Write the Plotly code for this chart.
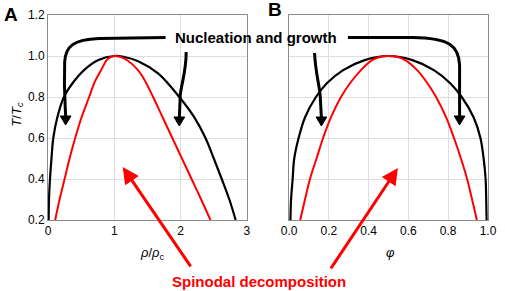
import plotly.graph_objects as go

# ---- data ----
# Panel A: rho/rho_c vs T/Tc
a_binodal_x = [0.01, 0.015, 0.03, 0.05, 0.08, 0.14, 0.24, 0.37, 0.54, 0.76, 1.0,
               1.15, 1.36, 1.66, 1.98, 2.2, 2.375, 2.5, 2.62, 2.735, 2.83]
a_binodal_y = [0.2, 0.3, 0.4, 0.49, 0.6, 0.70, 0.8, 0.867, 0.93, 0.98, 1.0,
               0.995, 0.975, 0.915, 0.8, 0.704, 0.6, 0.5, 0.4, 0.3, 0.2]
a_spinodal_x = [0.108, 0.175, 0.25, 0.325, 0.41, 0.505, 0.62, 0.70, 0.80, 0.90, 1.0,
                1.08, 1.2, 1.36, 1.47, 1.585, 1.73, 1.875, 2.02, 2.165, 2.31, 2.45]
a_spinodal_y = [0.2, 0.3, 0.4, 0.5, 0.6, 0.7, 0.8, 0.87, 0.93, 0.985, 1.0,
                0.997, 0.978, 0.93, 0.875, 0.8, 0.7, 0.6, 0.5, 0.4, 0.3, 0.2]

# Panel B: phi vs T/Tc
b_binodal_x = [0.007, 0.01, 0.018, 0.026, 0.048, 0.08, 0.135, 0.19, 0.27, 0.38, 0.5,
               0.62, 0.73, 0.81, 0.868, 0.928, 0.962, 0.978, 0.988, 0.991, 0.993]
b_binodal_y = [0.2, 0.3, 0.4, 0.5, 0.6, 0.7, 0.8, 0.867, 0.93, 0.98, 1.0,
               0.98, 0.93, 0.867, 0.8, 0.7, 0.6, 0.5, 0.4, 0.3, 0.2]
b_spinodal_x = [0.056, 0.08, 0.105, 0.138, 0.171, 0.212, 0.261, 0.31, 0.36, 0.417, 0.46, 0.5,
                0.54, 0.583, 0.645, 0.692, 0.739, 0.788, 0.829, 0.864, 0.895, 0.92, 0.944]
b_spinodal_y = [0.2, 0.3, 0.4, 0.5, 0.6, 0.704, 0.8, 0.872, 0.93, 0.98, 0.996, 1.0,
                0.996, 0.98, 0.93, 0.872, 0.8, 0.704, 0.6, 0.5, 0.4, 0.3, 0.2]

y_ticks = [0.2, 0.4, 0.6, 0.8, 1.0, 1.2]
a_x_ticks = [0, 1, 2, 3]
b_x_ticks = [0.0, 0.2, 0.4, 0.6, 0.8, 1.0]
b_x_ticklabels = ["0.0", "0.2", "0.4", "0.6", "0.8", "1.0"]

label_top = "Nucleation and growth"
label_bottom = "Spinodal decomposition"

# ---- layout geometry ----
W, H = 505, 291
ML, MR, MT, MB = 48, 8, 15, 71
PW, PH = W - ML - MR, H - MT - MB
FONT = "Arial, Liberation Sans, sans-serif"


def px(x, y):
    """reference-picture pixel -> paper coords"""
    return (x - ML) / PW, (H - MB - y) / PH


fig = go.Figure()
fig.add_trace(go.Scatter(x=a_binodal_x, y=a_binodal_y, mode="lines", line=dict(color="black", width=2.2),
                         line_shape="spline", xaxis="x", yaxis="y", showlegend=False))
fig.add_trace(go.Scatter(x=a_spinodal_x, y=a_spinodal_y, mode="lines", line=dict(color="#ff0000", width=2),
                         line_shape="spline", xaxis="x", yaxis="y", showlegend=False))
fig.add_trace(go.Scatter(x=b_binodal_x, y=b_binodal_y, mode="lines", line=dict(color="black", width=2.2),
                         line_shape="spline", xaxis="x2", yaxis="y2", showlegend=False))
fig.add_trace(go.Scatter(x=b_spinodal_x, y=b_spinodal_y, mode="lines", line=dict(color="#ff0000", width=2),
                         line_shape="spline", xaxis="x2", yaxis="y2", showlegend=False))

axis_common = dict(showline=True, mirror=True, linecolor="#8c8c8c", linewidth=1,
                   showgrid=True, gridcolor="#dedede", gridwidth=1, zeroline=False,
                   ticks="", tickfont=dict(family=FONT, size=12, color="black"))
xa_dom = [0, px(251, 0)[0]]
xb_dom = [px(294, 0)[0], 1]

fig.update_layout(
    width=W, height=H, margin=dict(l=ML, r=MR, t=MT, b=MB),
    paper_bgcolor="white", plot_bgcolor="white",
    xaxis=dict(domain=xa_dom, range=[0, 3], tickvals=a_x_ticks, anchor="y", **axis_common),
    yaxis=dict(domain=[0, 1], range=[0.2, 1.2], tickvals=y_ticks, tickformat=".1f", anchor="x", **axis_common),
    xaxis2=dict(domain=xb_dom, range=[0, 1], tickvals=b_x_ticks, ticktext=b_x_ticklabels, anchor="y2", **axis_common),
    yaxis2=dict(domain=[0, 1], range=[0.2, 1.2], tickvals=y_ticks, showticklabels=False, anchor="x2", **axis_common),
)


def path_from(points):
    s = ""
    for i, (x, y) in enumerate(points):
        X, Y = px(x, y)
        s += ("M" if i == 0 else " L") + f"{X:.5f},{Y:.5f}"
    return s


def curve_path(start, segs):
    X, Y = px(*start)
    s = f"M{X:.5f},{Y:.5f}"
    for seg in segs:
        if len(seg) == 3:
            pts = [px(*p) for p in seg]
            s += " C" + " ".join(f"{a:.5f},{b:.5f}" for a, b in pts)
        else:
            a, b = px(*seg[0])
            s += f" L{a:.5f},{b:.5f}"
    return s


shapes = []
arrow_line = dict(color="black", width=3)
# A: long arrow from text to left
shapes.append(dict(type="path", xref="paper", yref="paper", line=arrow_line,
                   path=curve_path((168, 37.5), [((100, 38.5),), ((74, 39.5), (66, 46), (65, 62)),
                                                 ((64, 95), (66, 108), (66, 118))])))
# A: short arrow
shapes.append(dict(type="path", xref="paper", yref="paper", line=arrow_line,
                   path=curve_path((189, 52), [((189, 72), (184, 84), (183, 95)), ((182, 118),)])))
# B: long arrow to right
shapes.append(dict(type="path", xref="paper", yref="paper", line=arrow_line,
                   path=curve_path((354, 37.5), [((420, 37.5),), ((458, 38), (467, 46), (468, 65)),
                                                 ((468, 118),)])))
# B: short arrow
shapes.append(dict(type="path", xref="paper", yref="paper", line=arrow_line,
                   path=curve_path((320, 53), [((321, 75), (326, 88), (326, 100)), ((327, 118),)])))
# arrowheads
for cx, top in [(66, 116), (182, 117), (468, 116), (327, 117)]:
    shapes.append(dict(type="path", xref="paper", yref="paper", fillcolor="black",
                       line=dict(color="black", width=1),
                       path=path_from([(cx - 5.5, top), (cx + 5.5, top), (cx, top + 9)]) + " Z"))
fig.update_layout(shapes=shapes)

ann = []
# Panel letters
for letter, x, y in [("A", 10, 14), ("B", 280, 10)]:
    X, Y = px(x, y)
    ann.append(dict(xref="paper", yref="paper", x=X, y=Y, text=f"<b>{letter}</b>", showarrow=False,
                    font=dict(family=FONT, size=19, color="black"), xanchor="center", yanchor="middle"))
# top label
X, Y = px(260, 37)
ann.append(dict(xref="paper", yref="paper", x=X, y=Y, text=f"<b>{label_top}</b>", showarrow=False,
                font=dict(family=FONT, size=15, color="black"), xanchor="center", yanchor="middle"))
# bottom label
X, Y = px(263, 281)
ann.append(dict(xref="paper", yref="paper", x=X, y=Y, text=f"<b>{label_bottom}</b>", showarrow=False,
                font=dict(family=FONT, size=15, color="#ff0000"), xanchor="center", yanchor="middle"))
# axis titles
X, Y = px(16, 114)
ann.append(dict(xref="paper", yref="paper", x=X, y=Y, text="<i>T</i>/<i>T</i><sub><i>c</i></sub>",
                showarrow=False, textangle=-90, font=dict(family=FONT, size=13, color="black"),
                xanchor="center", yanchor="middle"))
X, Y = px(155, 254)
ann.append(dict(xref="paper", yref="paper", x=X, y=Y, text="<i>ρ</i>/<i>ρ</i><sub>c</sub>",
                showarrow=False, font=dict(family=FONT, size=13, color="black"),
                xanchor="center", yanchor="middle"))
X, Y = px(397, 253)
ann.append(dict(xref="paper", yref="paper", x=X, y=Y, text="<i>φ</i>",
                showarrow=False, font=dict(family=FONT, size=13, color="black"),
                xanchor="center", yanchor="middle"))
# red arrows (tip in data coordinates)
ann.append(dict(xref="x", yref="y", x=1.126, y=0.459, ax=69, ay=101, text="", showarrow=True,
                arrowhead=2, arrowsize=1.1, arrowwidth=3, arrowcolor="#ff0000"))
ann.append(dict(xref="x2", yref="y2", x=0.547, y=0.454, ax=-68, ay=102, text="", showarrow=True,
                arrowhead=2, arrowsize=1.1, arrowwidth=3, arrowcolor="#ff0000"))
fig.update_layout(annotations=ann)

fig.write_html("out.html", config={"displayModeBar": False},
               post_script="document.body.style.margin='0px';"
                           "document.body.style.overflow='hidden';"
                           "document.documentElement.style.overflow='hidden';")
